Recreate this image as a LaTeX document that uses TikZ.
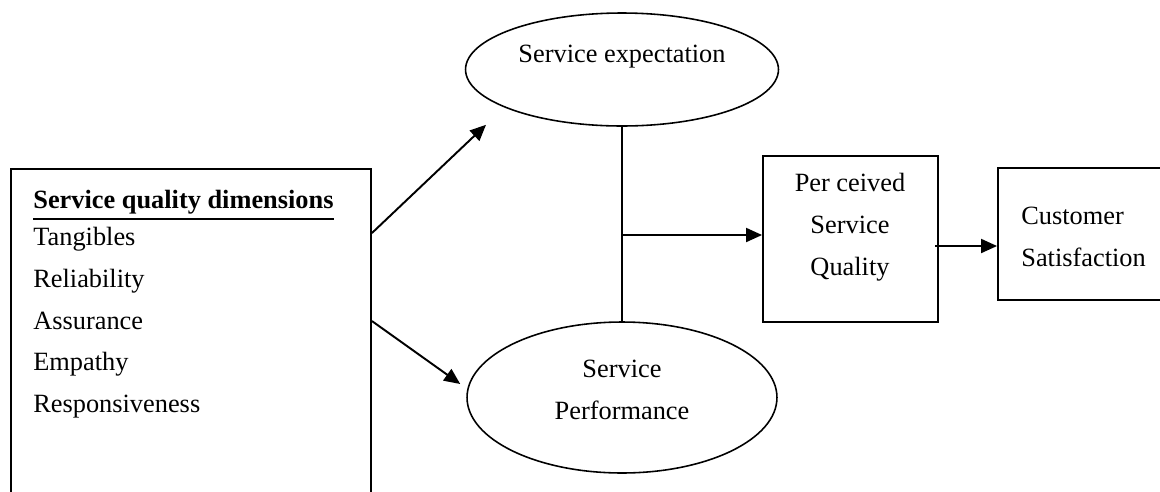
\documentclass[tikz,border=0pt]{standalone}
\usepackage{fontspec}
\setmainfont{Liberation Serif}
\usetikzlibrary{arrows.meta,shapes.geometric}

\newcommand{\headul}[1]{\setbox0\hbox{#1}\rlap{\rule[-6.2pt]{\wd0}{1.1pt}}\box0}

\begin{document}
\begin{tikzpicture}[
	x=0.02cm, y=-0.02cm,
	box/.style={ draw, line width=1.1pt, rectangle, inner sep=0pt },
	oval/.style={ draw, line width=0.9pt, ellipse, inner sep=0pt },
	txt/.style={ inner sep=0pt, font=\fontsize{15}{23.8}\selectfont },
	arr/.style={ line width=1.1pt, -{Triangle[length=0.32cm,width=0.28cm]} }
]

\clip (0,0) rectangle (1160,491);

\node at (191,334.5) (dims) [box, minimum width=7.2cm, minimum height=6.62cm] {};
\node at (622,69.5) (expect) [oval, minimum width=6.26cm, minimum height=2.26cm] {};
\node at (622,397.5) (perf) [oval, minimum width=6.2cm, minimum height=3.02cm] {};
\node at (850.5,239) (psq) [box, minimum width=3.5cm, minimum height=3.32cm] {};
\node at (1099,234) (cs) [box, minimum width=4.04cm, minimum height=2.64cm] {};

\node at (33,190) (dimlist) [txt, anchor=north west, align=left] {\headul{\bfseries Service quality dimensions}\\[-0.1cm] Tangibles\\ Reliability\\ Assurance\\ Empathy\\ Responsiveness};
\node at (622,62) (expecttext) [txt, anchor=base] {Service expectation};
\node at (622,360) (perftext) [txt, anchor=north, align=center] {Service\\ Performance};
\node at (850,173) (psqtext) [txt, anchor=north, align=center] {Per ceived\\ Service\\ Quality};
\node at (1021,207) (cstext) [txt, anchor=north west, align=left] {Customer\\ Satisfaction};

\coordinate (join) at (622,235);
\coordinate (qout) at (935,246);
\draw[arr] ([yshift=-1.3cm]dims.north east) -- ([xshift=-2.72cm,yshift=0.04cm]expect.south);
\draw[arr] ([yshift=-3.06cm]dims.north east) -- ([xshift=-0.12cm,yshift=0.27cm]perf.west);
\draw[line width=0.9pt] (expect.south) -- (perf.north);
\draw[arr] (join) -- (join -| psq.west);
\draw[arr] (qout) -- (qout -| cs.west);

\end{tikzpicture}
\end{document}
